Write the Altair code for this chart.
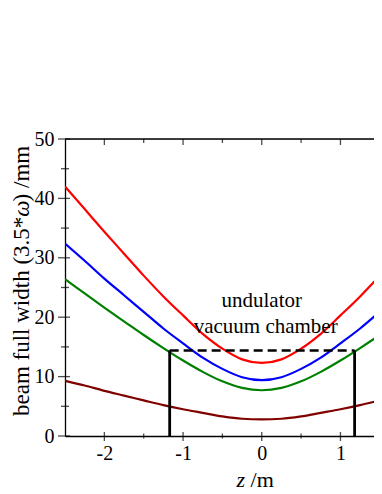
import altair as alt
import pandas as pd

# ---- data ----
z = [-2.5, -2.25, -2.0, -1.75, -1.5, -1.25, -1.0, -0.75, -0.5, -0.25, 0.0,
     0.25, 0.5, 0.75, 1.0, 1.25, 1.5, 1.75, 2.0, 2.25, 2.5]
red = [42.0, 38.2, 34.4, 30.7, 27.0, 23.5, 20.3, 17.2, 14.7, 12.9, 12.3,
       12.9, 14.7, 17.2, 20.3, 23.5, 27.0, 30.7, 34.4, 38.2, 42.0]
blue = [32.4, 29.5, 26.5, 23.7, 20.9, 18.1, 15.6, 13.2, 11.3, 9.9, 9.4,
        9.9, 11.3, 13.2, 15.6, 18.1, 20.9, 23.7, 26.5, 29.5, 32.4]
green = [26.4, 24.0, 21.6, 19.3, 17.0, 14.8, 12.7, 10.8, 9.2, 8.1, 7.7,
         8.1, 9.2, 10.8, 12.7, 14.8, 17.0, 19.3, 21.6, 24.0, 26.4]
darkred = [9.3, 8.5, 7.6, 6.8, 6.0, 5.2, 4.5, 3.9, 3.3, 2.9, 2.8,
           2.9, 3.3, 3.9, 4.5, 5.2, 6.0, 6.8, 7.6, 8.5, 9.3]

series_names = ["red", "blue", "green", "darkred"]
series_colors = ["#ff0000", "#0000ff", "#008000", "#800000"]

chamber_ends = [-1.17, 1.18]
chamber_height = [14.4]

label_text = ["undulator", "vacuum chamber"]
label_z = [0.0, 0.05]
label_w = [21.8, 17.3]

x_major = [-2, -1, 0, 1]
x_minor = [-1.5, -0.5, 0.5, 1.5]
y_major = [0, 10, 20, 30, 40, 50]
y_minor = [5, 15, 25, 35, 45]

x_title = ["z", "/m"]
y_title = ["beam full width (3.5*", "\u03c9", ") /mm"]

FONT = "Liberation Serif"
W, H = 309, 297
XDOM = [-2.5, -2.5 + 309 / 78.7]
YDOM = [0, 50]

# ---- tables ----
rows = []
for name, vals in zip(series_names, [red, blue, green, darkred]):
    for zz, v in zip(z, vals):
        rows.append({"z": zz, "w": v, "s": name})
lines_df = pd.DataFrame(rows)

xs = alt.Scale(domain=XDOM, nice=False, zero=False)
ys = alt.Scale(domain=YDOM, nice=False)

xaxis = alt.Axis(values=x_major, labelExpr="toString(datum.value)", title=None,
                 ticks=False, grid=False, domainColor="black", domainWidth=1.3,
                 labelFont=FONT, labelFontSize=20, labelColor="black",
                 labelPadding=7)
yaxis = alt.Axis(values=y_major, title=None, ticks=False, grid=False,
                 domainColor="black", domainWidth=1.3, labelFont=FONT,
                 labelFontSize=20, labelColor="black", labelPadding=11)

lines = alt.Chart(lines_df).mark_line(clip=True, strokeWidth=2.2,
                                      interpolate="monotone").encode(
    x=alt.X("z:Q", scale=xs, axis=xaxis),
    y=alt.Y("w:Q", scale=ys, axis=yaxis),
    color=alt.Color("s:N", scale=alt.Scale(domain=series_names,
                                           range=series_colors), legend=None),
    detail="s:N",
)

dash_df = pd.DataFrame({"x1": [chamber_ends[0]], "x2": [chamber_ends[1]],
                        "h": chamber_height})
dashed = alt.Chart(dash_df).mark_rule(strokeDash=[9, 5], strokeWidth=2.5,
                                      color="black").encode(
    x=alt.X("x1:Q", scale=xs), x2="x2:Q", y=alt.Y("h:Q", scale=ys))

vert_df = pd.DataFrame({"x": chamber_ends, "y0": [0, 0],
                        "h": chamber_height * 2})
verts = alt.Chart(vert_df).mark_rule(strokeWidth=2.8, color="black").encode(
    x=alt.X("x:Q", scale=xs), y=alt.Y("y0:Q", scale=ys), y2="h:Q")

lab_df = pd.DataFrame({"t": label_text, "x": label_z, "y": label_w})
labels = alt.Chart(lab_df).mark_text(font=FONT, fontSize=21, color="black",
                                     baseline="alphabetic", align="center").encode(
    x=alt.X("x:Q", scale=xs), y=alt.Y("y:Q", scale=ys), text="t:N")

top_line = alt.Chart(pd.DataFrame({"a": [0]})).mark_rule(
    color="black", strokeWidth=1.3).encode(
    x=alt.value(0), x2=alt.value(W), y=alt.value(0))

def vticks(vals, yval, size, off):
    df = pd.DataFrame({"x": vals, "y": [yval] * len(vals)})
    return alt.Chart(df).mark_tick(orient="vertical", size=size, thickness=1.3,
                                   color="black", yOffset=off, clip=True if yval == 50 else False).encode(
        x=alt.X("x:Q", scale=xs), y=alt.Y("y:Q", scale=ys))

def hticks(vals, size, off):
    df = pd.DataFrame({"x": [XDOM[0]] * len(vals), "y": vals})
    return alt.Chart(df).mark_tick(orient="horizontal", size=size, thickness=1.3,
                                   color="black", xOffset=off).encode(
        x=alt.X("x:Q", scale=xs), y=alt.Y("y:Q", scale=ys))

ticks = [
    vticks(x_major, 0, 9, 0.5),
    vticks(x_minor, 0, 5, 0),
    vticks(x_major, 50, 6, 3),
    vticks(x_minor, 50, 4, 2),
    hticks(y_major, 12, -1),
    hticks(y_minor, 8, 0),
]

def txt(t, x, y, angle=0, italic=False, size=22):
    kw = dict(font=FONT, fontSize=size, color="black", align="left",
              baseline="alphabetic", angle=angle)
    if italic:
        kw["fontStyle"] = "italic"
    return alt.Chart(pd.DataFrame({"t": [t]})).mark_text(**kw).encode(
        text="t:N", x=alt.value(x), y=alt.value(y))

titles = [
    txt(x_title[0], 171.5, 348, italic=True),
    txt(x_title[1], 185.6, 348),
    txt(y_title[0], -36, 277, angle=270, size=23),
    txt(y_title[1], -36, 77.7, angle=270, italic=True, size=23),
    txt(y_title[2], -36, 62.4, angle=270, size=23),
]

chart = alt.layer(lines, dashed, verts, labels, top_line, *ticks, *titles).properties(
    width=W, height=H,
    autosize=alt.AutoSizeParams(type="none"),
    padding={"left": 57, "top": 131, "right": 0, "bottom": 58},
).configure_view(stroke=None).configure(background="white")

chart.save("out.html", embed_options={"renderer": "svg", "actions": False})
